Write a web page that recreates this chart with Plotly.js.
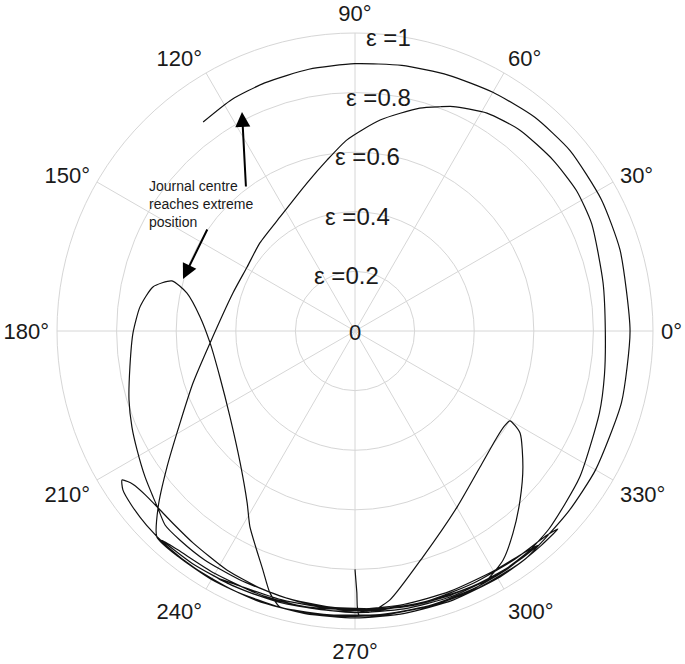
<!DOCTYPE html>
<html>
<head>
<meta charset="utf-8">
<script src="https://cdn.plot.ly/plotly-3.0.1.min.js"></script>
<style>html,body{margin:0;padding:0;background:#fff;}#chart{width:685px;height:664px;}</style>
</head>
<body>
<div id="chart"></div>
<script>
// ---- Data: journal centre trajectory (attitude angle in degrees, eccentricity ratio) ----
const startTheta = [270, 270.4, 270.8];
const startR     = [0.80, 0.876, 0.953];

const swingTheta = [275, 285, 295, 305, 311, 315.7,
                    313, 305, 295, 285, 275, 265, 255, 245, 235, 227.3,
                    231, 240, 250, 260, 270, 280, 290, 300, 306, 310.5,
                    307, 300, 290, 280, 270, 260, 250, 244, 240.8,
                    245, 255, 265, 271];
const swingR     = [0.956, 0.957, 0.957, 0.955, 0.953, 0.951,
                    0.94, 0.935, 0.935, 0.938, 0.94, 0.942, 0.945, 0.948, 0.952, 0.955,
                    0.945, 0.94, 0.94, 0.942, 0.945, 0.947, 0.948, 0.947, 0.946, 0.945,
                    0.935, 0.93, 0.93, 0.932, 0.935, 0.94, 0.945, 0.948, 0.949,
                    0.94, 0.935, 0.935, 0.94];

const rightLoopTheta = [273, 277.4, 286.7, 300.1, 312.6, 323.3, 327.5, 329.9, 328.3, 321.0, 314.3, 308.0, 302.9, 297.9, 293.1,
                        285, 275, 265, 258, 254.8];
const rightLoopR     = [0.945, 0.91, 0.792, 0.683, 0.620, 0.595, 0.594, 0.601, 0.651, 0.725, 0.793, 0.861, 0.915, 0.946, 0.956,
                        0.955, 0.955, 0.956, 0.958, 0.960];

const leftLoopTheta = [252.0, 248.9, 241.8, 237.9, 229.1, 214.5, 198.8, 184.7, 174.8, 167.3, 164.7, 167.7, 173.6,
                       180.5, 189.1, 197.0, 203.3, 208.6, 214.8, 219.4, 221.9, 225.6, 230.1, 236.8];
const leftLoopR     = [0.924, 0.859, 0.746, 0.681, 0.588, 0.509, 0.479, 0.488, 0.522, 0.578, 0.637, 0.694, 0.726,
                       0.745, 0.765, 0.793, 0.815, 0.833, 0.858, 0.877, 0.889, 0.911, 0.915, 0.919];

const bandTheta = [245, 255, 265, 275, 285, 295, 303, 309.4,
                   303, 295, 285, 275, 265, 255, 245, 236, 229, 223, 218, 214.4, 212.6];
const bandR     = [0.92, 0.925, 0.93, 0.935, 0.94, 0.943, 0.945, 0.942,
                   0.948, 0.952, 0.955, 0.958, 0.96, 0.961, 0.961, 0.96, 0.959, 0.956, 0.951, 0.944, 0.928];

const ellipseTheta = [213.5, 214.7, 218, 222.5, 227, 232.6, 241.8, 250, 258, 266, 274, 282, 290, 298, 303, 306.6];
const ellipseR     = [0.915, 0.905, 0.893, 0.888, 0.889, 0.895, 0.91, 0.92, 0.928, 0.934, 0.938, 0.941, 0.943, 0.945, 0.946, 0.945];

const innerArcTheta = [314.4, 326.8, 341.5, 350, 0, 11, 24.4, 32.4, 40.8, 50.6, 58.8, 66.4, 69.2, 73.8, 83.2, 92.4,
                       99.3, 108, 123.3, 137.2, 149.3, 162.7, 184.7, 197.8, 207.7, 215.9, 221.8, 226.1];
const innerArcR     = [0.93, 0.90, 0.865, 0.85, 0.84, 0.848, 0.872, 0.88, 0.878, 0.872, 0.855, 0.822, 0.805, 0.779, 0.713, 0.642,
                       0.581, 0.522, 0.458, 0.435, 0.421, 0.429, 0.488, 0.571, 0.663, 0.779, 0.886, 0.959];

const outerArcTheta = [232, 240, 250, 260, 270, 280, 290, 300, 306.9,
                       312, 320, 330, 345, 0, 17, 28.1, 40, 50, 60, 70, 80, 90, 100, 110, 118, 126];
const outerArcR     = [0.962, 0.963, 0.963, 0.963, 0.963, 0.962, 0.961, 0.958, 0.955,
                       0.945, 0.938, 0.932, 0.926, 0.923, 0.93, 0.937, 0.942, 0.937, 0.925, 0.914, 0.905, 0.897, 0.892, 0.886, 0.88, 0.867];

// ---- Axis labels ----
const angleTicks  = [0, 30, 60, 90, 120, 150, 180, 210, 240, 270, 300, 330];
const angleLabels = ['0°', '30°', '60°', '90°', '120°', '150°', '180°', '210°', '240°', '270°', '300°', '330°'];
const radialTicks  = [0, 0.2, 0.4, 0.6, 0.8, 1];
const radialLabels = ['0', 'ε =0.2', 'ε =0.4', 'ε =0.6', 'ε =0.8', 'ε =1'];
const noteText = 'Journal centre<br>reaches extreme<br>position';

// ---- Build trajectory ----
const theta = [].concat(startTheta, swingTheta, rightLoopTheta, leftLoopTheta, bandTheta, ellipseTheta, innerArcTheta, outerArcTheta);
const rr    = [].concat(startR, swingR, rightLoopR, leftLoopR, bandR, ellipseR, innerArcR, outerArcR);

// ---- Layout geometry (pixels) ----
const W = 685, H = 664, CX = 355, CY = 331, RAD = 298;
const px = x => x / W;
const py = y => 1 - y / H;
const FONT = 'Liberation Sans, Arial, sans-serif';

const annotations = [];
radialTicks.forEach((v, i) => {
  const isZero = v === 0;
  annotations.push({
    xref: 'paper', yref: 'paper',
    x: px(isZero ? CX : 336 + 52.5 * v),
    y: py(CY - v * RAD + (isZero ? 1 : 4.5)),
    xanchor: 'center', yanchor: 'middle',
    text: radialLabels[i], showarrow: false,
    font: {family: FONT, size: isZero ? 22 : 24, color: '#1a1a1a'}
  });
});
annotations.push({
  xref: 'paper', yref: 'paper', x: px(147), y: py(176),
  xanchor: 'left', yanchor: 'top', align: 'left',
  text: noteText, showarrow: false,
  font: {family: FONT, size: 14, color: '#1a1a1a'}
});
annotations.push({
  xref: 'paper', yref: 'paper', x: px(242), y: py(112), text: '',
  showarrow: true, ax: 4, ay: 76, arrowhead: 2, arrowsize: 1.5, arrowwidth: 2,
  arrowcolor: '#000', standoff: 0
});
annotations.push({
  xref: 'paper', yref: 'paper', x: px(183), y: py(279), text: '',
  showarrow: true, ax: 25, ay: -51, arrowhead: 2, arrowsize: 1.5, arrowwidth: 2,
  arrowcolor: '#000', standoff: 0
});

const data = [{
  type: 'scatterpolar', mode: 'lines',
  theta: theta, r: rr,
  line: {color: '#111', width: 1.2, shape: 'spline', smoothing: 0.6},
  hoverinfo: 'skip'
}];

const grid = '#d6d6d6';
const layout = {
  width: W, height: H,
  margin: {l: 0, r: 0, t: 0, b: 0},
  paper_bgcolor: '#fff',
  showlegend: false,
  font: {family: FONT, color: '#1a1a1a'},
  polar: {
    domain: {x: [px(CX - RAD), px(CX + RAD)], y: [py(CY + RAD), py(CY - RAD)]},
    bgcolor: '#fff',
    radialaxis: {
      range: [0, 1], tickvals: radialTicks, showticklabels: false, ticks: '',
      showline: false, gridcolor: grid, gridwidth: 1
    },
    angularaxis: {
      rotation: 0, direction: 'counterclockwise',
      tickmode: 'array', tickvals: angleTicks, ticktext: angleLabels,
      ticks: 'outside', ticklen: 3, tickcolor: 'rgba(0,0,0,0)',
      showline: true, linecolor: grid, linewidth: 1,
      gridcolor: grid, gridwidth: 1,
      tickfont: {family: FONT, size: 22, color: '#1a1a1a'}
    }
  },
  annotations: annotations
};

Plotly.newPlot('chart', data, layout, {staticPlot: true, displayModeBar: false});
</script>
</body>
</html>
